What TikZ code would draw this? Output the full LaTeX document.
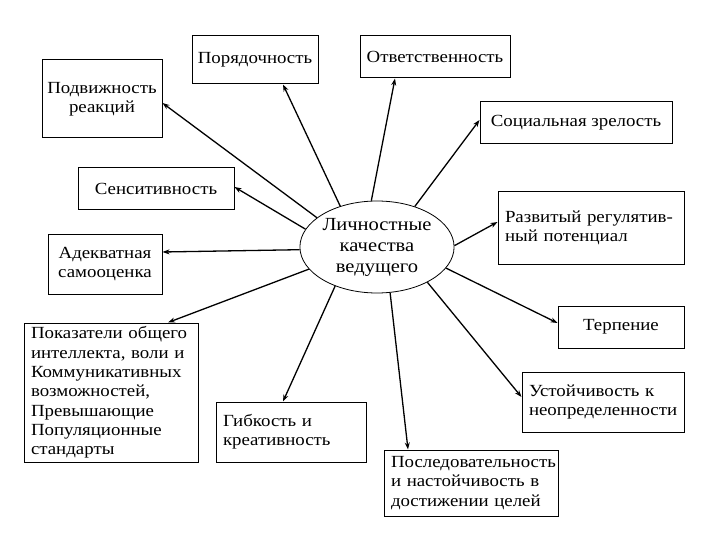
\documentclass[tikz,border=0pt]{standalone}
\usepackage{fontspec}
\setmainfont{Liberation Serif}[FakeStretch=1.11]
\usetikzlibrary{shapes.geometric,arrows.meta}
\begin{document}
\begin{tikzpicture}[x=1pt,y=-1pt,
  box/.style={draw,line width=1pt,inner sep=0pt,font=\fontsize{17}{19.3}\selectfont},
  cbox/.style={box,align=center},
  lbox/.style={box,align=left},
  arr/.style={line width=1.3pt,-{Stealth[length=7pt,width=5pt]}}]
\useasboundingbox (0,0) rectangle (720,540);
\fill[white] (0,0) rectangle (720,540);

\node[draw,ellipse,line width=0.8pt,inner sep=0pt,minimum width=152pt,minimum height=92pt,
  align=center,font=\fontsize{18.5}{21}\selectfont] (ell) at (377,247) {Личностные\\качества\\ведущего};

\node[cbox,minimum width=126pt,minimum height=48pt] (por) at (255,60) {Порядочность};
\node[cbox,minimum width=120pt,minimum height=78pt] (podv) at (102,99) {Подвижность\\реакций};
\node[cbox,minimum width=156pt,minimum height=42pt] (sens) at (156,189) {Сенситивность};
\node[cbox,minimum width=114pt,minimum height=60pt] (adek) at (105,264) {Адекватная\\самооценка};
\node[lbox,minimum width=174pt,minimum height=139pt,text width=160pt] (pok) at (111,392.5)
  {Показатели общего\\интеллекта, воли и\\Коммуникативных\\возможностей,\\Превышающие\\Популяционные\\стандарты};
\node[lbox,minimum width=150pt,minimum height=60pt,text width=136pt] (gib) at (291,432) {Гибкость и\\креативность};
\node[cbox,minimum width=150pt,minimum height=42pt] (otv) at (435,57) {Ответственность};
\node[cbox,minimum width=192pt,minimum height=42pt] (soc) at (576,123) {Социальная зрелость};
\node[lbox,minimum width=186pt,minimum height=72pt,text width=172pt] (razv) at (591,228) {Развитый регулятив-\\ный потенциал};
\node[cbox,minimum width=126pt,minimum height=42pt] (terp) at (621,327) {Терпение};
\node[lbox,minimum width=162pt,minimum height=60pt,text width=148pt] (ust) at (603,402) {Устойчивость к\\неопределенности};
\node[lbox,minimum width=174pt,minimum height=66pt,text width=160pt] (posl) at (471,483)
  {Последовательность\\и настойчивость в\\достижении целей};

\draw[arr] (ell.132) -- ([xshift=28pt]por.south);
\draw[arr] (ell.154) -- ([yshift=-4pt]podv.east);
\draw[arr] (ell.166) -- ([yshift=2pt]sens.east);
\draw[arr] (ell.182) -- ([yshift=12pt]adek.east);
\draw[arr] (ell.198) -- ([xshift=57pt]pok.north);
\draw[arr] (ell.223) -- ([xshift=-8pt]gib.north);
\draw[arr] (ell.97.6) -- ([xshift=-40pt]otv.south);
\draw[arr] (ell.47) -- ([yshift=3pt]soc.west);
\draw[arr] (ell.1.5) -- ([yshift=6pt]razv.west);
\draw[arr] (ell.343) -- ([yshift=4pt]terp.west);
\draw[arr] (ell.325) -- ([yshift=5pt]ust.west);
\draw[arr] (ell.286) -- ([xshift=-63pt]posl.north);
\end{tikzpicture}
\end{document}
